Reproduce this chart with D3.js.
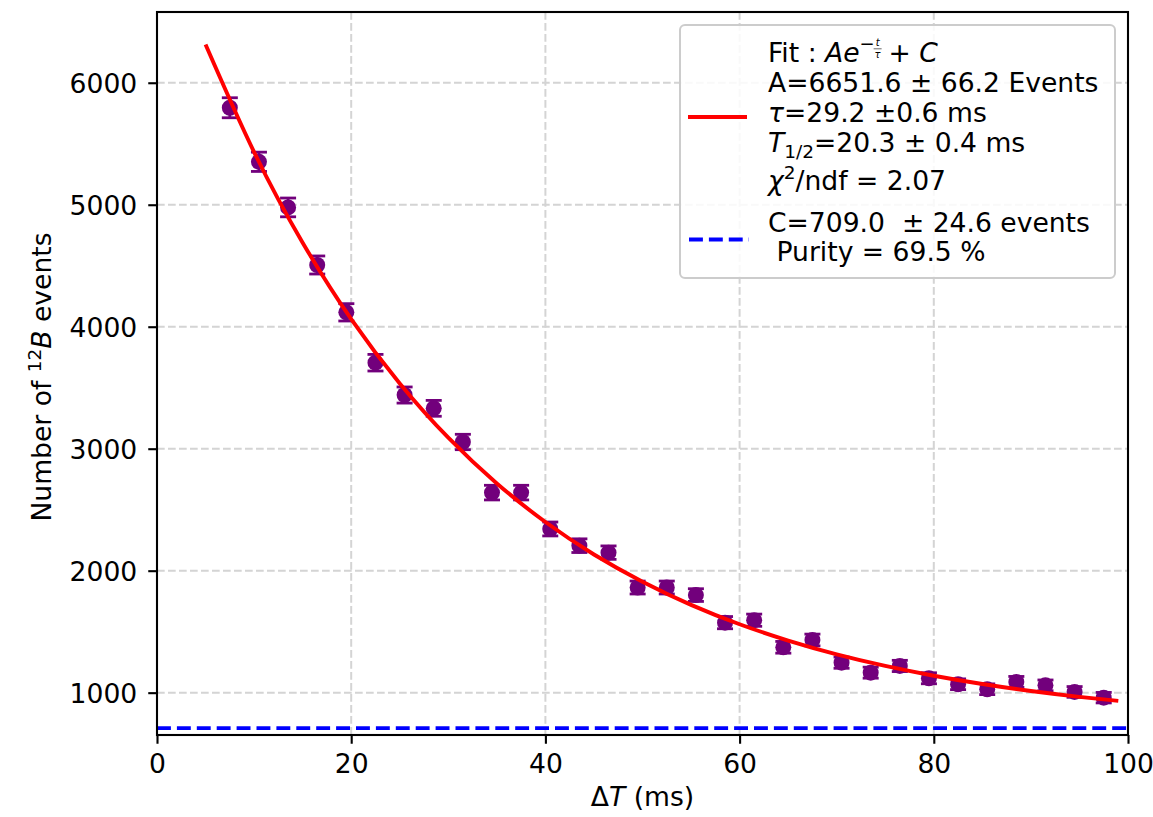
<!DOCTYPE html>
<html>
<head>
<meta charset="utf-8">
<script src="https://cdn.jsdelivr.net/npm/d3@7"></script>
<style>
  html, body { margin: 0; padding: 0; background: #ffffff; }
  svg { display: block; font-family: "DejaVu Sans", sans-serif; }
  text { white-space: pre; }
</style>
</head>
<body>
<svg id="chart" width="1153" height="817"></svg>
<script>
// ---- data ----
const deltaT = [7.5, 10.5, 13.5, 16.5, 19.5, 22.5, 25.5, 28.5, 31.5, 34.5, 37.5,
                40.5, 43.5, 46.5, 49.5, 52.5, 55.5, 58.5, 61.5, 64.5, 67.5, 70.5,
                73.5, 76.5, 79.5, 82.5, 85.5, 88.5, 91.5, 94.5, 97.5];
const counts = [5795, 5352, 4978, 4506, 4118, 3705, 3440, 3331, 3055, 2640, 2640,
                2342, 2205, 2148, 1862, 1862, 1800, 1574, 1594, 1372, 1432, 1246,
                1164, 1219, 1118, 1069, 1028, 1088, 1060, 1006, 959];
const countErrors = [82, 79, 77, 74, 71, 68, 66, 65, 63, 60, 60,
                     57, 56, 55, 53, 53, 52, 50, 50, 48, 48, 46,
                     45, 46, 45, 44, 44, 45, 44, 44, 43];
// red fit curve
const fitT      = [5, 10, 15, 20, 25, 30, 35, 40, 45, 50, 55, 60, 65, 70, 75, 80, 85, 90, 95, 99];
const fitValues = [6314, 5432, 4689, 4062, 3535, 3090, 2715, 2399, 2133, 1910, 1720,
                   1561, 1427, 1314, 1219, 1139, 1071, 1014, 966, 933];
const backgroundLevel = 709.0;
const xTicks = [0, 20, 40, 60, 80, 100];
const yTicks = [1000, 2000, 3000, 4000, 5000, 6000];
const xTickLabels = ["0", "20", "40", "60", "80", "100"];
const yTickLabels = ["1000", "2000", "3000", "4000", "5000", "6000"];

// ---- layout ----
const W = 1153, H = 817;
const L = 157, R = 1128, T = 12, B = 735;
const FS = 26.6;
const purple = "#72007c";

const svg = d3.select("#chart");
const x = d3.scaleLinear().domain([0, 100]).range([L, R]);
const y = d3.scaleLinear().domain([653, 6580]).range([B, T]);

// grid
const grid = svg.append("g");
grid.selectAll("line.gx").data(xTicks).join("line")
  .attr("x1", d => x(d)).attr("x2", d => x(d)).attr("y1", T).attr("y2", B)
  .attr("stroke", "#d4d4d4").attr("stroke-width", 2).attr("stroke-dasharray", "7.7,3.3");
grid.selectAll("line.gy").data(yTicks).join("line")
  .attr("x1", L).attr("x2", R).attr("y1", d => y(d)).attr("y2", d => y(d))
  .attr("stroke", "#d4d4d4").attr("stroke-width", 2).attr("stroke-dasharray", "7.7,3.3");

// clip
svg.append("clipPath").attr("id", "clip").append("rect")
  .attr("x", L).attr("y", T).attr("width", R - L).attr("height", B - T);
const plot = svg.append("g").attr("clip-path", "url(#clip)");

// background constant line
plot.append("line")
  .attr("x1", L).attr("x2", R)
  .attr("y1", y(backgroundLevel)).attr("y2", y(backgroundLevel))
  .attr("stroke", "#0000ff").attr("stroke-width", 3.9).attr("stroke-dasharray", "13.9,6");

// error bars + markers
const pts = deltaT.map((t, i) => ({t, v: counts[i], e: countErrors[i]}));
const eb = plot.append("g").attr("stroke", purple).attr("stroke-width", 2.8);
eb.selectAll("line.v").data(pts).join("line")
  .attr("x1", d => x(d.t)).attr("x2", d => x(d.t))
  .attr("y1", d => y(d.v - d.e)).attr("y2", d => y(d.v + d.e));
eb.selectAll("line.cl").data(pts).join("line")
  .attr("x1", d => x(d.t) - 8).attr("x2", d => x(d.t) + 8)
  .attr("y1", d => y(d.v - d.e)).attr("y2", d => y(d.v - d.e));
eb.selectAll("line.ch").data(pts).join("line")
  .attr("x1", d => x(d.t) - 8).attr("x2", d => x(d.t) + 8)
  .attr("y1", d => y(d.v + d.e)).attr("y2", d => y(d.v + d.e));
plot.append("g").selectAll("circle").data(pts).join("circle")
  .attr("cx", d => x(d.t)).attr("cy", d => y(d.v)).attr("r", 8)
  .attr("fill", purple);

// fit curve
const fitPts = fitT.map((t, i) => [t, fitValues[i]]);
plot.append("path")
  .datum(fitPts)
  .attr("d", d3.line().x(d => x(d[0])).y(d => y(d[1])).curve(d3.curveNatural))
  .attr("fill", "none").attr("stroke", "#ff0000").attr("stroke-width", 3.9);

// axes
const xAxis = d3.axisBottom(x).tickValues(xTicks).tickFormat((d, i) => xTickLabels[i])
  .tickSize(8.75).tickPadding(10.2);
const gx = svg.append("g").attr("transform", `translate(0,${B})`).call(xAxis);
const yAxis = d3.axisLeft(y).tickValues(yTicks).tickFormat((d, i) => yTickLabels[i])
  .tickSize(8.75).tickPadding(11);
const gy = svg.append("g").attr("transform", `translate(${L},0)`).call(yAxis);
[gx, gy].forEach(g => {
  g.select(".domain").remove();
  g.selectAll(".tick line").attr("stroke", "#000").attr("stroke-width", 2.1);
  g.selectAll(".tick text").attr("fill", "#000").style("font-size", FS + "px")
    .style("font-family", "DejaVu Sans");
});
gy.selectAll(".tick text").attr("dy", "0.37em");

// frame
svg.append("rect").attr("x", L).attr("y", T).attr("width", R - L).attr("height", B - T)
  .attr("fill", "none").attr("stroke", "#000").attr("stroke-width", 2.1);

// axis labels
svg.append("text").attr("x", 642.5).attr("y", 806).attr("text-anchor", "middle")
  .style("font-size", FS + "px")
  .call(t => {
    t.append("tspan").text("Δ");
    t.append("tspan").attr("font-style", "italic").text("T");
    t.append("tspan").text(" (ms)");
  });
const ylab = svg.append("text").attr("transform", "translate(51,377) rotate(-90)")
  .attr("text-anchor", "middle").style("font-size", FS + "px");
ylab.append("tspan").text("Number of ");
ylab.append("tspan").attr("font-size", 18.5).attr("dy", -10).text("12");
ylab.append("tspan").attr("font-style", "italic").attr("dy", 10).text("B");
ylab.append("tspan").text(" events");

// legend
const lg = svg.append("g");
lg.append("rect").attr("x", 680).attr("y", 25).attr("width", 435).attr("height", 253)
  .attr("rx", 5).attr("fill", "#ffffff").attr("fill-opacity", 0.85)
  .attr("stroke", "#cccccc").attr("stroke-width", 2);
lg.append("line").attr("x1", 688).attr("x2", 747).attr("y1", 117).attr("y2", 117)
  .attr("stroke", "#ff0000").attr("stroke-width", 3.9);
lg.append("line").attr("x1", 689).attr("x2", 749).attr("y1", 239.5).attr("y2", 239.5)
  .attr("stroke", "#0000ff").attr("stroke-width", 3.9).attr("stroke-dasharray", "13.9,6");

const tx = 768;
const fitText = lg.append("text").attr("x", tx).attr("y", 62).style("font-size", FS + "px");
fitText.append("tspan").text("Fit : ");
fitText.append("tspan").attr("font-style", "italic").text("Ae");
const fitEnd = tx + fitText.node().getComputedTextLength();
// exponent: minus sign and small t over τ
lg.append("text").attr("x", fitEnd).attr("y", 50).style("font-size", "18px").text("−");
lg.append("text").attr("x", fitEnd + 18).attr("y", 45.5).attr("text-anchor", "middle")
  .style("font-size", "10px").attr("font-style", "italic").text("t");
lg.append("text").attr("x", fitEnd + 18).attr("y", 58).attr("text-anchor", "middle")
  .style("font-size", "10px").attr("font-style", "italic").text("τ");
lg.append("line").attr("x1", fitEnd + 14).attr("x2", fitEnd + 22).attr("y1", 48.8).attr("y2", 48.8)
  .attr("stroke", "#000").attr("stroke-width", 0.6);
const plusC = lg.append("text").attr("x", fitEnd + 29).attr("y", 62).style("font-size", FS + "px");
plusC.append("tspan").text("+ ");
plusC.append("tspan").attr("font-style", "italic").text("C");

lg.append("text").attr("x", tx).attr("y", 92).style("font-size", FS + "px")
  .text("A=6651.6 ± 66.2 Events");
const tauText = lg.append("text").attr("x", tx).attr("y", 122).style("font-size", FS + "px");
tauText.append("tspan").attr("font-style", "italic").text("τ");
tauText.append("tspan").text("=29.2 ±0.6 ms");
const halfText = lg.append("text").attr("x", tx).attr("y", 152).style("font-size", FS + "px");
halfText.append("tspan").attr("font-style", "italic").text("T");
halfText.append("tspan").attr("font-size", 18.5).attr("dy", 6).text("1/2");
halfText.append("tspan").attr("dy", -6).text("=20.3 ± 0.4 ms");
const chiText = lg.append("text").attr("x", tx).attr("y", 190).style("font-size", FS + "px");
chiText.append("tspan").attr("font-style", "italic").text("χ");
chiText.append("tspan").attr("font-size", 18.5).attr("dy", -11).text("2");
chiText.append("tspan").attr("dy", 11).text("/ndf = 2.07");
lg.append("text").attr("x", tx).attr("y", 232).style("font-size", FS + "px")
  .text("C=709.0  ± 24.6 events");
lg.append("text").attr("x", tx).attr("y", 261).style("font-size", FS + "px")
  .text(" Purity = 69.5 %");
</script>
</body>
</html>
